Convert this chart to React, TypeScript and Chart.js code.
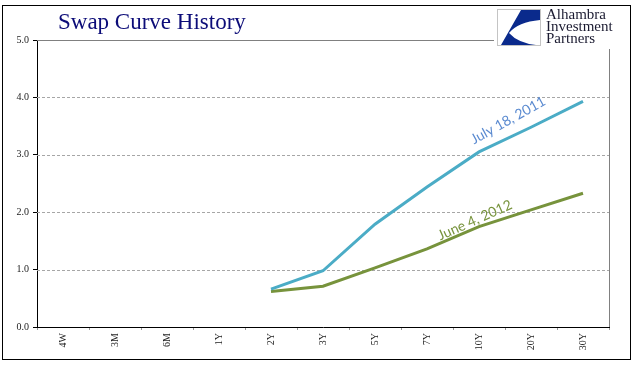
import React, { useEffect, useRef } from "react";
import { Chart, registerables } from "chart.js";

Chart.register(...registerables);

const categories = ["4W", "3M", "6M", "1Y", "2Y", "3Y", "5Y", "7Y", "10Y", "20Y", "30Y"];
const july2011 = [null, null, null, null, 0.66, 0.98, 1.79, 2.44, 3.05, 3.48, 3.93];
const june2012 = [null, null, null, null, 0.62, 0.71, 1.03, 1.36, 1.75, 2.04, 2.33];
const seriesNames = ["July 18, 2011", "June 4, 2012"];
const yTicks = [0, 1, 2, 3, 4, 5];
// annotation anchors: [category index (fractional), value]
const julyLabelAnchor = [8.56, 3.6];
const juneLabelAnchor = [7.92, 1.86];

const decorPlugin = {
  id: "decor",
  beforeDatasetsDraw(chart: any) {
    const { ctx, chartArea, scales } = chart;
    const y = scales.y;
    ctx.save();
    ctx.strokeStyle = "#a6a6a6";
    ctx.lineWidth = 1;
    yTicks.forEach((v) => {
      if (v === 0 || v === 5) return;
      const py = Math.round(y.getPixelForValue(v)) + 0.5;
      ctx.setLineDash([3, 2]);
      ctx.beginPath();
      ctx.moveTo(chartArea.left, py);
      ctx.lineTo(chartArea.right, py);
      ctx.stroke();
    });
    ctx.setLineDash([]);
    ctx.strokeStyle = "#808080";
    const top = Math.round(y.getPixelForValue(5)) + 0.5;
    ctx.beginPath();
    ctx.moveTo(chartArea.left, top);
    ctx.lineTo(494, top);
    ctx.stroke();
    const rx = Math.round(chartArea.right) + 0.5;
    ctx.beginPath();
    ctx.moveTo(rx, 49);
    ctx.lineTo(rx, chartArea.bottom);
    ctx.stroke();
    ctx.restore();
  },
  afterDraw(chart: any) {
    const { ctx, scales } = chart;
    const x = scales.x;
    const y = scales.y;
    ctx.save();
    // outer frame
    ctx.strokeStyle = "#000";
    ctx.lineWidth = 1;
    ctx.strokeRect(2.5, 5.5, 628, 354);
    // title
    ctx.fillStyle = "#0c0c78";
    ctx.font = '23px "Liberation Serif", serif';
    ctx.textBaseline = "alphabetic";
    ctx.textAlign = "left";
    ctx.fillText("Swap Curve History", 58, 29);
    // logo box
    ctx.fillStyle = "#fff";
    ctx.fillRect(497, 9, 44, 37);
    ctx.strokeStyle = "#c4c4c4";
    ctx.strokeRect(497.5, 9.5, 43, 36);
    ctx.fillStyle = "#0a2a8c";
    ctx.beginPath();
    ctx.moveTo(521, 10);
    ctx.lineTo(540, 10);
    ctx.lineTo(540, 20);
    ctx.quadraticCurveTo(518, 22, 509, 33);
    ctx.quadraticCurveTo(518, 43, 536, 45);
    ctx.lineTo(501, 45);
    ctx.closePath();
    ctx.fill();
    ctx.fillStyle = "#1a1a30";
    ctx.font = '15px "Liberation Serif", serif';
    ctx.fillText("Alhambra", 546, 19);
    ctx.fillText("Investment", 546, 31);
    ctx.fillText("Partners", 546, 43);
    // series annotations
    const drawLabel = (text: string, anchor: number[], angle: number, color: string) => {
      const px = x.getPixelForValue(anchor[0]);
      const py = y.getPixelForValue(anchor[1]);
      ctx.save();
      ctx.translate(px, py);
      ctx.rotate((angle * Math.PI) / 180);
      ctx.fillStyle = color;
      ctx.font = '14px Lato, "Liberation Sans", sans-serif';
      ctx.textAlign = "center";
      ctx.textBaseline = "middle";
      ctx.fillText(text, 0, 0);
      ctx.restore();
    };
    drawLabel(seriesNames[0], julyLabelAnchor, -29, "#5a8ad0");
    drawLabel(seriesNames[1], juneLabelAnchor, -24, "#77933c");
    ctx.restore();
  },
};

export default function App() {
  const ref = useRef<HTMLCanvasElement | null>(null);
  useEffect(() => {
    document.body.style.margin = "0";
    const canvas = ref.current!;
    const chart = new Chart(canvas, {
      type: "line",
      data: {
        labels: categories,
        datasets: [
          {
            label: seriesNames[0],
            data: july2011,
            borderColor: "#4bacc6",
            borderWidth: 3,
            pointRadius: 0,
            tension: 0,
            fill: false,
          },
          {
            label: seriesNames[1],
            data: june2012,
            borderColor: "#77933c",
            borderWidth: 3,
            pointRadius: 0,
            tension: 0,
            fill: false,
          },
        ],
      },
      options: {
        responsive: false,
        animation: false,
        devicePixelRatio: 1,
        layout: { padding: { left: 0, top: 40, right: 32, bottom: 0 } },
        plugins: { legend: { display: false }, tooltip: { enabled: false }, title: { display: false } },
        scales: {
          x: {
            type: "category",
            offset: true,
            grid: {
              offset: true,
              drawOnChartArea: false,
              drawTicks: true,
              tickLength: 3,
              color: "#999",
            },
            border: { color: "#000", width: 1 },
            ticks: {
              minRotation: 90,
              maxRotation: 90,
              padding: 3,
              autoSkip: false,
              color: "#222",
              font: { family: '"Liberation Serif", serif', size: 10 },
            },
            afterFit: (s: any) => {
              s.height = 54;
            },
          },
          y: {
            min: 0,
            max: 5,
            ticks: {
              stepSize: 1,
              padding: 4,
              color: "#222",
              font: { family: '"Liberation Serif", serif', size: 10 },
              callback: (v: any) => Number(v).toFixed(1),
            },
            grid: {
              drawOnChartArea: false,
              drawTicks: true,
              tickLength: 4,
              color: "#000",
            },
            border: { color: "#000", width: 1 },
            afterFit: (s: any) => {
              s.width = 37;
            },
          },
        },
      },
      plugins: [decorPlugin],
    });
    return () => chart.destroy();
  }, []);
  return (
    <div style={{ width: 641, height: 381, background: "#fff" }}>
      <canvas ref={ref} width={641} height={381} style={{ display: "block" }} />
    </div>
  );
}
